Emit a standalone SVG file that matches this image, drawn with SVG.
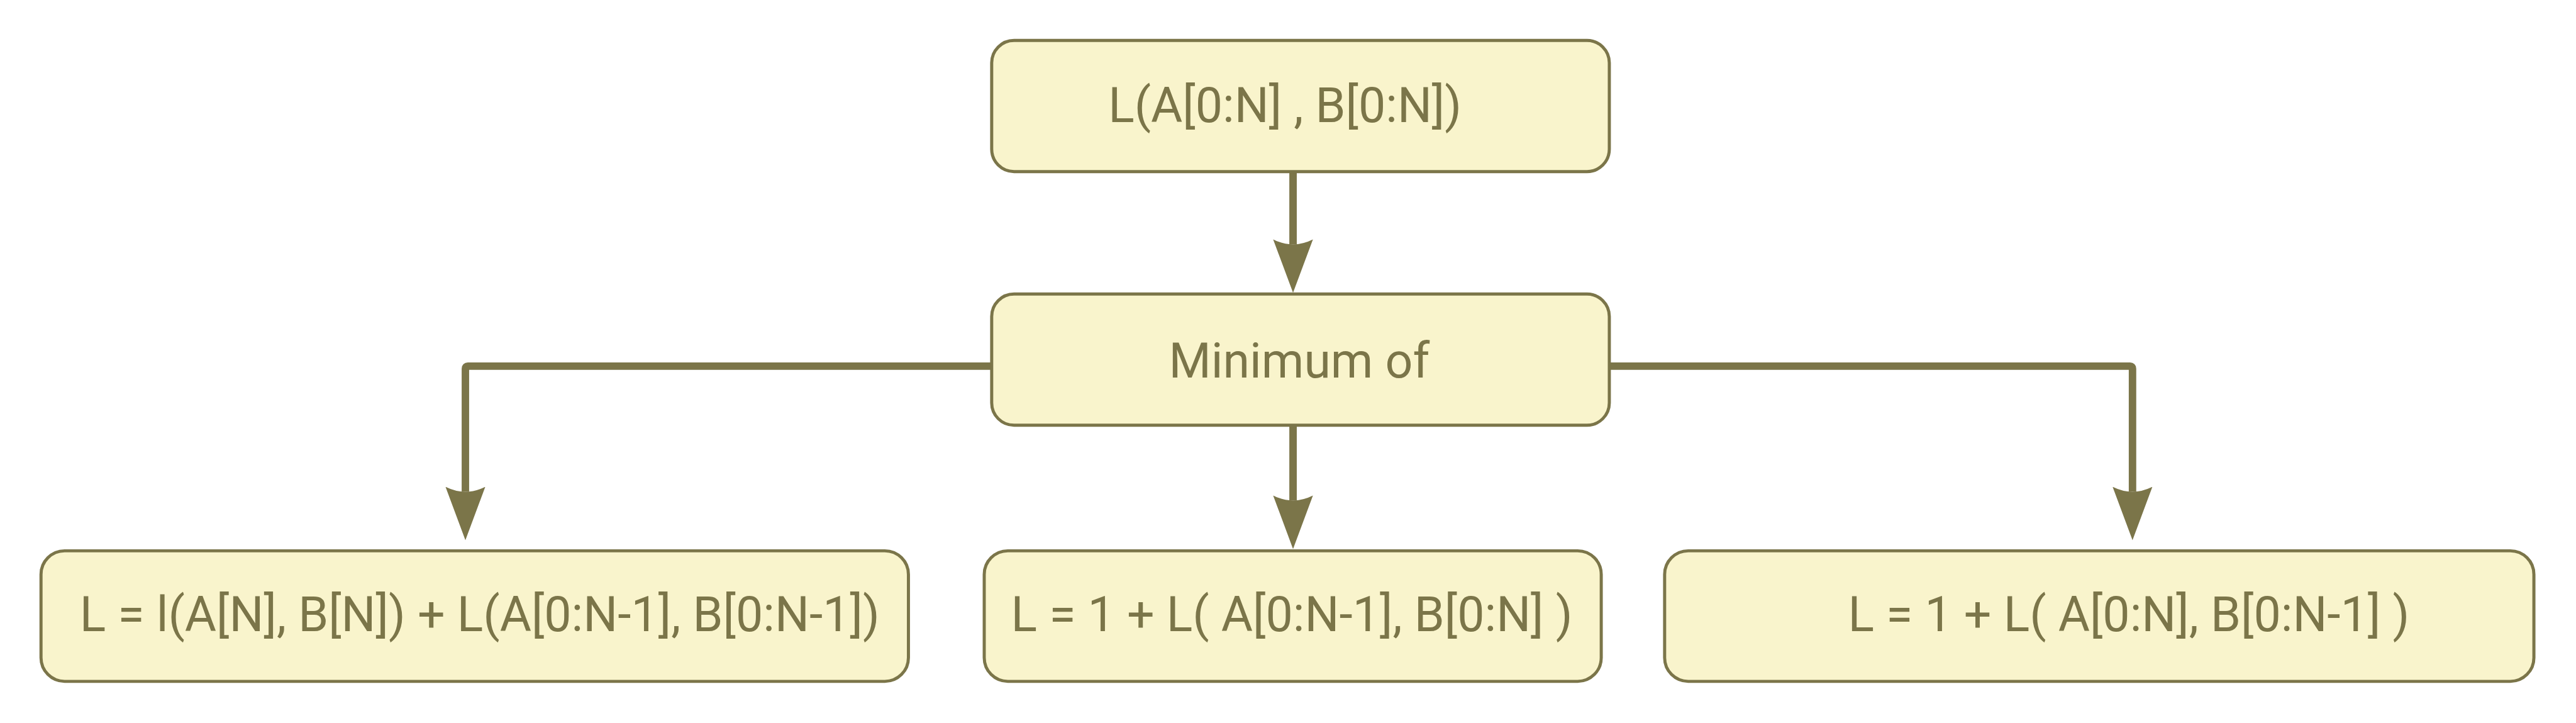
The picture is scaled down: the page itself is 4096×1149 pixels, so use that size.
<svg xmlns="http://www.w3.org/2000/svg" width="4096" height="1149" viewBox="0 0 4096 1149">
<style>
.box{fill:#f9f4cc;stroke:#7b7549;stroke-width:5}
.lbl{font-family:Roboto,"Liberation Sans",sans-serif;font-size:78px;fill:#7b7549;text-anchor:middle}
.edge{fill:none;stroke:#7b7549;stroke-width:12;marker-end:url(#arr)}
</style>
<defs>
<marker id="arr" markerUnits="userSpaceOnUse" viewBox="0 -34 90 68" markerWidth="90" markerHeight="68" refX="8" refY="0" orient="auto">
<path d="M86,0 L0,-32 Q16,0 0,32 Z" fill="#7b7549"/>
</marker>
</defs>
<rect width="4096" height="1149" fill="#ffffff"/>
<g transform="scale(0.988)">
<g id="connectors">
<path class="edge" d="M2081,277 L2081,393"/>
<path class="edge" d="M2081,685 L2081,805"/>
<path class="edge" d="M1595,589 L753,589 Q749,589 749,593 L749,791"/>
<path class="edge" d="M2591,589 L3428,589 Q3432,589 3432,593 L3432,791"/>
</g>
<g id="node-top">
<rect class="box" x="1596" y="65" width="994" height="211" rx="36" ry="36"/>
<text class="lbl" x="2068" y="196">L(A[0:N] , B[0:N])</text>
</g>
<g id="node-min">
<rect class="box" x="1596" y="473" width="994" height="211" rx="36" ry="36"/>
<text class="lbl" x="2091" y="607">Minimum of</text>
</g>
<g id="node-left">
<rect class="box" x="66" y="886" width="1396" height="210" rx="38" ry="38"/>
<text class="lbl" x="772" y="1015">L = l(A[N], B[N]) + L(A[0:N-1], B[0:N-1])</text>
</g>
<g id="node-center">
<rect class="box" x="1584" y="886" width="993" height="210" rx="38" ry="38"/>
<text class="lbl" x="2079" y="1015">L = 1 + L( A[0:N-1], B[0:N] )</text>
</g>
<g id="node-right">
<rect class="box" x="2679" y="886" width="1399" height="210" rx="38" ry="38"/>
<text class="lbl" x="3426" y="1015">L = 1 + L( A[0:N], B[0:N-1] )</text>
</g>
</g>
</svg>
